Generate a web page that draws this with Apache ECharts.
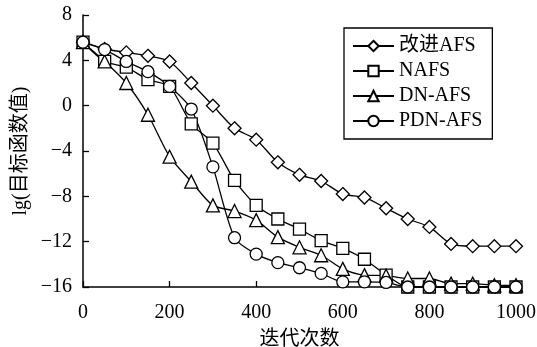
<!DOCTYPE html>
<html>
<head>
<meta charset="utf-8">
<script src="https://cdn.jsdelivr.net/npm/echarts@6/dist/echarts.min.js"></script>
<style>
  html, body { margin: 0; padding: 0; background: #fff; }
  #main { width: 537px; height: 347px; }
</style>
</head>
<body>
<div id="main"></div>
<script>
// 迭代次数
var iters = [0, 50, 100, 150, 200, 250, 300, 350, 400, 450, 500, 550, 600, 650, 700, 750, 800, 850, 900, 950, 1000];
// lg(目标函数值)
var afs  = [5.6, 5.0, 4.7, 4.4, 3.9, 2.0, 0.0, -2.0, -3.0, -5.0, -6.1, -6.65, -7.8, -8.1, -9.05, -10.0, -10.7, -12.2, -12.4, -12.4, -12.4];
var nafs = [5.6, 3.9, 3.4, 2.3, 1.7, -1.6, -3.3, -6.6, -8.8, -10.0, -10.9, -11.9, -12.6, -13.55, -14.95, -16, -16, -16, -16, -16, -16];
var dnafs = [5.6, 3.9, 2.0, -0.8, -4.5, -6.7, -8.8, -9.3, -10.1, -11.6, -12.5, -13.2, -14.4, -14.95, -15.0, -15.25, -15.25, -15.7, -15.7, -15.85, -15.85];
var pdnafs = [5.6, 4.95, 3.9, 3.0, 1.7, -0.3, -5.4, -11.65, -13.1, -13.85, -14.3, -14.8, -15.55, -15.55, -15.6, -16, -16, -16, -16, -16, -16];

var names = ['改进AFS', 'NAFS', 'DN-AFS', 'PDN-AFS'];
var font = "'Liberation Serif', 'Noto Sans CJK SC', serif";

function pairs(ys) {
  return iters.map(function (x, i) { return [x, ys[i]]; });
}

function mkSeries(name, ys, symbol, size) {
  return {
    name: name,
    type: 'line',
    data: pairs(ys),
    smooth: 0.25,
    clip: false,
    symbol: symbol,
    symbolSize: size,
    showAllSymbol: true,
    lineStyle: { color: '#000', width: 1.3 },
    itemStyle: { color: '#fff', borderColor: '#000', borderWidth: 1.3 }
  };
}

var chart = echarts.init(document.getElementById('main'));

var option = {
  animation: false,
  backgroundColor: '#fff',
  grid: { left: 83, right: 21, top: 15, bottom: 60, outerBoundsMode: 'none' },
  legend: {
    orient: 'vertical',
    left: 344,
    top: 28,
    padding: [8, 10, 8, 8],
    itemWidth: 41,
    itemHeight: 13,
    itemGap: 5,
    borderColor: '#000',
    borderWidth: 1.3,
    textStyle: { fontFamily: font, fontSize: 20, color: '#000', lineHeight: 20 },
    data: names
  },
  xAxis: {
    type: 'value',
    min: 0,
    max: 1000,
    interval: 200,
    name: '迭代次数',
    nameLocation: 'middle',
    nameGap: 43,
    nameMoveOverlap: false,
    nameTextStyle: { fontFamily: font, fontSize: 20, color: '#000' },
    axisLine: { onZero: false, lineStyle: { color: '#000', width: 1.5 } },
    axisTick: { inside: true, length: 6, lineStyle: { color: '#000', width: 1.3 } },
    axisLabel: {
      fontFamily: font, fontSize: 20, color: '#000', margin: 16,
      formatter: function (v) { return String(v); }
    },
    splitLine: { show: false }
  },
  yAxis: {
    type: 'value',
    min: -16,
    max: 8,
    interval: 4,
    name: 'lg(目标函数值)',
    nameLocation: 'middle',
    nameGap: 52,
    nameMoveOverlap: false,
    nameTextStyle: { fontFamily: font, fontSize: 20, color: '#000' },
    axisLine: { show: true, onZero: false, lineStyle: { color: '#000', width: 1.5 } },
    axisTick: { show: true, inside: true, length: 6, lineStyle: { color: '#000', width: 1.3 } },
    axisLabel: {
      fontFamily: font, fontSize: 20, color: '#000', margin: 11,
      formatter: function (v) { return String(v).replace('-', '\u2212'); }
    },
    splitLine: { show: false }
  },
  series: [
    mkSeries(names[0], afs, 'diamond', 13),
    mkSeries(names[1], nafs, 'rect', 12),
    mkSeries(names[2], dnafs, 'triangle', 13),
    mkSeries(names[3], pdnafs, 'circle', 12)
  ]
};

chart.setOption(option);
</script>
</body>
</html>
